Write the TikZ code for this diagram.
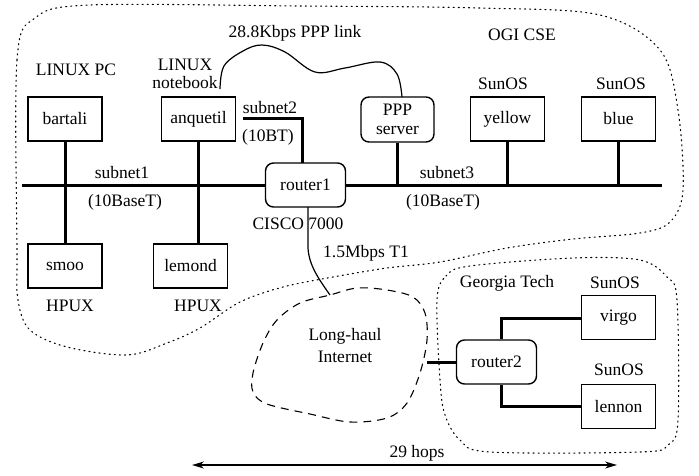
\documentclass[tikz,border=0pt]{standalone}
\usepackage{fontspec}
\setmainfont{Liberation Serif}
\newfontfamily\diagfont{Liberation Serif}
\usetikzlibrary{arrows.meta,calc}
\begin{document}
\begin{tikzpicture}[x=1pt,y=-1pt,
  every node/.style={font=\diagfont\fontsize{17.5}{20}\selectfont, inner sep=0pt},
  hostbox/.style={draw, line width=1.4pt, minimum width=74pt, minimum height=44pt},
  routerbox/.style={draw, line width=1.4pt, rounded corners=8pt, minimum width=80pt, minimum height=44pt},
  wire/.style={line width=3pt},
  thinwire/.style={line width=1.2pt},
  region/.style={line width=1.1pt, dash pattern=on 1.1pt off 4pt, line cap=round},
  cloud/.style={line width=1.1pt, dash pattern=on 8pt off 6pt},
  lbl/.style={align=center}
]
\useasboundingbox (0,0) rectangle (699,475);

% regions
\draw[region] plot[smooth cycle, tension=0.55] coordinates {
 (17,250) (17,60) (35,18) (90,5) (300,6) (480,8) (600,15) (660,50) (678,110)
 (683,190) (670,222) (640,233) (573,239) (507,248) (440,262) (387,268) (333,277)
 (283,287) (240,302) (200,328) (167,343) (127,355) (67,347) (30,330) (18,300)};
\draw[region] plot[smooth cycle, tension=0.55] coordinates {
 (437,300) (446,276) (470,266) (573,258) (640,260) (667,277) (677,300) (678,420)
 (668,445) (640,452) (490,452) (460,440) (445,415) (440,380)};
\draw[cloud] plot[smooth cycle, tension=0.55] coordinates {
 (330,295) (300,303) (277,320) (263,343) (253,373) (253,392) (267,404) (310,414)
 (350,422) (387,418) (407,403) (420,373) (427,340) (425,313) (413,297) (387,290) (357,288)};

% hosts
\node[hostbox] (bartali) at (65,119) {bartali};
\node[hostbox] (anquetil) at (198.5,119) {anquetil};
\node[routerbox, minimum width=73pt, minimum height=45pt, align=center, font=\diagfont\fontsize{17.5}{19}\selectfont] (ppp) at (397.5,119.5) {PPP\\server};
\node[hostbox] (yellow) at (507.5,119) {yellow};
\node[hostbox] (blue) at (618.5,119) {blue};
\node[hostbox] (smoo) at (65,266) {smoo};
\node[hostbox] (lemond) at (190.5,266) {lemond};
\node[routerbox] (router1) at (305.5,185) {router1};
\node[routerbox] (router2) at (496.5,362) {router2};
\node[hostbox] (virgo) at (618.5,317.5) {virgo};
\node[hostbox] (lennon) at (618.5,406.5) {lennon};

% bus
\coordinate (busL) at (22,185);
\coordinate (busR) at (662,185);
\draw[wire] (busL) -- (router1.west);
\draw[wire] (router1.east) -- (busR);
\draw[wire] (bartali.south) -- (smoo.north);
\draw[wire] (anquetil.south) -- (anquetil.south |- lemond.north);
\draw[wire] (ppp.south) -- (ppp.south |- busR);
\draw[wire] (yellow.south) -- (yellow.south |- busR);
\draw[wire] (blue.south) -- (blue.south |- busR);
% subnet2
\coordinate (s2) at (243,118);
\draw[wire] (s2) -- (302,118) -- (302,163);
% router2
\coordinate (inet) at (427,362);
\draw[wire] (inet) -- (router2.west);
\draw[wire] (501,339) -- (501,318.5) -- (virgo.west |- 0,318.5);
\draw[wire] (501,385) -- (501,406.5) -- (lennon.west);

% PPP link
\coordinate (pppA) at (220,89);
\draw[thinwire] plot[smooth, tension=0.6] coordinates {
 (pppA) (224,66) (243,51) (262,45) (285,52) (315,72) (345,68) (380,62) (397,74) (402,97)};
% T1 link
\coordinate (t1top) at (308,207);
\coordinate (t1bot) at (330,295);
\draw[thinwire] (t1top) -- (308,248) .. controls (309,265) and (318,278) .. (t1bot);

% labels
\node[lbl] (lpc) at (76,70) {LINUX PC};
\node[lbl, font=\diagfont\fontsize{17.5}{18}\selectfont] (lnb) at (185,74) {LINUX\\notebook};
\node[lbl] (ppplink) at (295,33) {28.8Kbps PPP link};
\node[lbl] (ogi) at (522,35) {OGI CSE};
\node[lbl] (sun1) at (503,84) {SunOS};
\node[lbl] (sun2) at (621,84) {SunOS};
\node[lbl] (sn1) at (122,173) {subnet1};
\node[lbl] (bt1) at (125,202) {(10BaseT)};
\node[lbl] (sn2) at (270,108) {subnet2};
\node[lbl] (bt2) at (268,137) {(10BT)};
\node[lbl] (sn3) at (447,173) {subnet3};
\node[lbl] (bt3) at (443,202) {(10BaseT)};
\node[lbl] (cisco) at (298,224) {CISCO 7000};
\node[lbl] (t1) at (366,253) {1.5Mbps T1};
\node[lbl] (hp1) at (70,306) {HPUX};
\node[lbl] (hp2) at (198,306) {HPUX};
\node[lbl, font=\diagfont\fontsize{17.5}{22}\selectfont] (lhi) at (345,346) {Long-haul\\Internet};
\node[lbl] (gt) at (507,283) {Georgia Tech};
\node[lbl] (sun3) at (615,283) {SunOS};
\node[lbl] (sun4) at (619,370) {SunOS};
\node[lbl] (hops) at (417,453) {29 hops};

% hops arrow
\coordinate (hL) at (192,465);
\coordinate (hR) at (617,465);
\draw[line width=1.1pt, {Stealth[length=12pt,width=7pt]}-{Stealth[length=12pt,width=7pt]}] (hL) -- (hR);
\end{tikzpicture}
\end{document}
